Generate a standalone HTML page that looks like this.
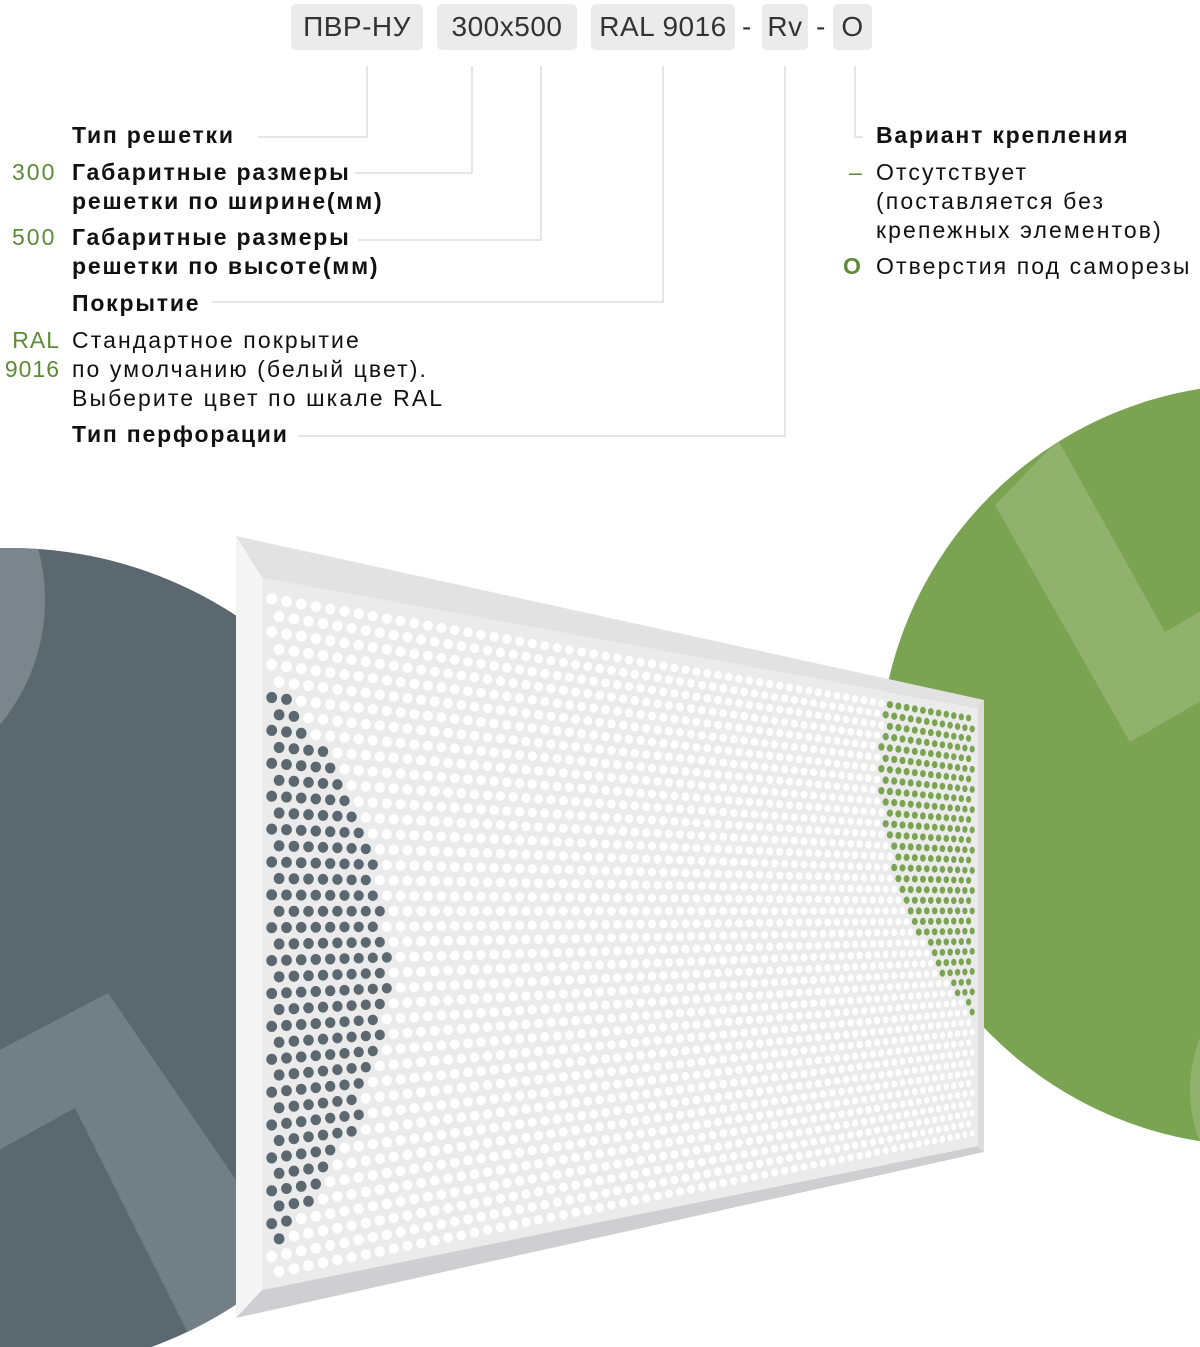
<!DOCTYPE html>
<html><head><meta charset="utf-8"><style>
html,body{margin:0;padding:0;background:#fff;}
body{width:1200px;height:1347px;position:relative;overflow:hidden;font-family:"Liberation Sans","Noto Sans CJK SC",sans-serif;color:#111;}
.t{position:absolute;font-size:23px;line-height:29px;white-space:nowrap;letter-spacing:2.1px;}
.b{font-weight:bold;letter-spacing:1.8px;}
.g{color:#5e8a37;letter-spacing:2px;}
.tag{position:absolute;top:4px;height:46px;background:#ebebeb;border-radius:5px;font-size:28px;line-height:46px;text-align:center;color:#333;letter-spacing:0.5px;}
.dash{position:absolute;top:4px;line-height:46px;font-size:28px;color:#333;}
svg{position:absolute;left:0;top:0;}
</style></head><body>
<svg width="1200" height="1347" viewBox="0 0 1200 1347" id="bg">
<defs>
<clipPath id="cl"><circle cx="10" cy="960" r="412"/></clipPath>
<clipPath id="cr"><circle cx="1260" cy="765" r="381"/></clipPath>
</defs>
<g stroke="#dedede" stroke-width="1.5" fill="none">
<polyline points="367,66 367,137 258,137"/>
<polyline points="472,66 472,173 355,173"/>
<polyline points="541,66 541,240 358,240"/>
<polyline points="663,66 663,302 212,302"/>
<polyline points="785,66 785,436 298,436"/>
<polyline points="855,66 855,137 863,137"/>
</g>
<circle cx="10" cy="960" r="412" fill="#5c6870"/>
<g clip-path="url(#cl)">
<circle cx="-150" cy="600" r="195" fill="#7a858c"/>
<polygon points="-10,1055 108,993 260,1215 260,1347 195,1347 75,1108 -10,1155" fill="#737f86"/>
</g>
<circle cx="1260" cy="765" r="381" fill="#7aa352"/>
<g clip-path="url(#cr)">
<polygon points="995,505 1058,440 1165,632 1220,600 1220,690 1130,742" fill="#91b26c"/>
<circle cx="1330" cy="1090" r="140" fill="#91b26c"/>
</g>
<polygon points="236,536 984,700 978,708 262,578" fill="#e2e2e3"/>
<polygon points="236,536 262,578 262,1290 236,1318" fill="#f5f5f6"/>
<polygon points="236,1318 262,1290 978,1146 984,1152" fill="#cfcfd1"/>
<polygon points="984,700 984,1152 978,1146 978,708" fill="#dcdcdd"/>
<polygon points="262,578 978,708 978,1146 262,1290" fill="#ebebec"/>
<g id="holes"></g>
</svg>

<div class="tag" style="left:291px;width:132px;">ПВР-НУ</div>
<div class="tag" style="left:437px;width:140px;">300х500</div>
<div class="tag" style="left:591px;width:144px;">RAL 9016</div>
<div class="dash" style="left:742px;">-</div>
<div class="tag" style="left:762px;width:46px;">Rv</div>
<div class="dash" style="left:816px;">-</div>
<div class="tag" style="left:833px;width:39px;">O</div>

<div class="t b" style="left:72px;top:121px;">Тип решетки</div>
<div class="t g" style="left:12px;top:158px;">300</div>
<div class="t b" style="left:72px;top:158px;">Габаритные размеры<br>решетки по ширине(мм)</div>
<div class="t g" style="left:12px;top:223px;">500</div>
<div class="t b" style="left:72px;top:223px;">Габаритные размеры<br>решетки по высоте(мм)</div>
<div class="t b" style="left:72px;top:289px;">Покрытие</div>
<div class="t g" style="left:2px;top:326px;text-align:right;width:58px;letter-spacing:1px;">RAL<br>9016</div>
<div class="t" style="left:72px;top:326px;">Стандартное покрытие<br>по умолчанию (белый цвет).<br>Выберите цвет по шкале RAL</div>
<div class="t b" style="left:72px;top:420px;">Тип перфорации</div>

<div class="t b" style="left:876px;top:121px;">Вариант крепления</div>
<div class="t g" style="left:849px;top:158px;">–</div>
<div class="t" style="left:876px;top:158px;">Отсутствует<br>(поставляется без<br>крепежных элементов)</div>
<div class="t g b" style="left:843px;top:252px;">O</div>
<div class="t" style="left:876px;top:252px;">Отверстия под саморезы</div>

<script>
(function(){
var TL=[268,590],TR=[974,714],BR=[974,1138],BL=[268,1282];
var cols=64,rows=42,out=[];
function lerp(a,b,t){return [a[0]+(b[0]-a[0])*t,a[1]+(b[1]-a[1])*t];}
for(var j=0;j<rows;j++){
 var v=(j+0.5)/rows;
 for(var i=0;i<cols;i++){
  var u=(i+(j%2?0.75:0.25))/cols;
  if(u>1)continue;
  var up=u*(1+0.35*(1-u));
  var d=1.35-0.7*u;
  var p1=lerp(TL,TR,up),p2=lerp(BL,BR,up),p=lerp(p1,p2,v);
  var h=p2[1]-p1[1];
  var ry=5.6*h/692, rx=5.4*d/1.35;
  var x=p[0],y=p[1],c="#ffffff";
  var dl=Math.hypot(x+15,y-965),dr=Math.hypot(x-1260,y-765);
  if(dl<403)c="#5c6870";else if(dr<380)c="#7aa352";
  out.push('<ellipse cx="'+x.toFixed(1)+'" cy="'+y.toFixed(1)+'" rx="'+rx.toFixed(2)+'" ry="'+ry.toFixed(2)+'" fill="'+c+'"/>');
 }
}
document.getElementById('holes').innerHTML=out.join('');
})();
</script>
</body></html>
